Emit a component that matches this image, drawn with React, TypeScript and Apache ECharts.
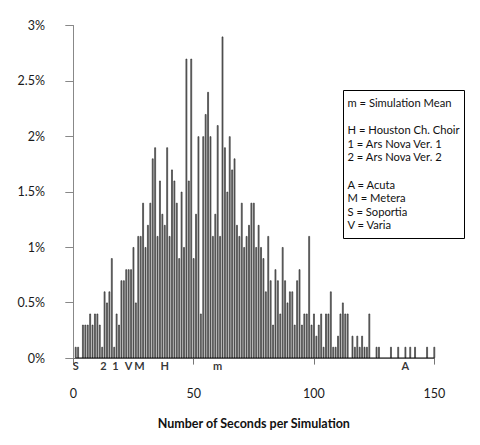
import React, { useEffect, useRef } from "react";
import * as echarts from "echarts";

// percent of simulations for seconds 1..123
const mainPercents = [
  0.1, 0.1, 0, 0.3, 0.3, 0.3, 0.4, 0.3, 0.4, 0.4,
  0.3, 0.1, 0.6, 0.5, 0.6, 0.9, 0.1, 0.4, 0.3, 0.7,
  0.7, 0.8, 0.8, 0.8, 1.0, 0.5, 1.1, 1.1, 1.4, 1.0,
  1.2, 1.4, 1.8, 1.9, 1.1, 1.6, 1.3, 1.2, 1.9, 1.1,
  1.7, 1.6, 1.4, 0.9, 1.5, 1.0, 2.7, 1.6, 2.7, 0.9,
  1.3, 2.0, 0.4, 2.0, 2.2, 2.4, 2.0, 1.1, 1.3, 2.1,
  1.1, 2.9, 1.9, 1.5, 2.0, 1.7, 1.8, 1.2, 1.1, 1.4,
  1.0, 1.1, 1.2, 1.4, 1.4, 1.0, 1.2, 1.0, 0.9, 0.6,
  1.1, 0.7, 0.3, 0.8, 0.7, 0.4, 1.0, 0.7, 0.5, 0.6,
  0.6, 0.3, 0.7, 0.8, 0.3, 0.4, 0.4, 1.1, 0.3, 0.4,
  0.2, 0.3, 0.4, 0.1, 0.4, 0.4, 0.6, 0.1, 0.1, 0.2,
  0.4, 0.5, 0.4, 0.4, 0, 0.2, 0.1, 0.2, 0.1, 0.2,
  0.1, 0.1, 0.4,
];
// sparse tail: seconds with a single simulation
const tailSeconds = [126, 127, 132, 135, 138, 140, 142, 147, 150];
const tailPercent = 0.1;

const markerLetters = ["S", "2", "1", "V", "M", "H", "m", "A"];
const markerSeconds = [1, 12.5, 17.5, 23, 27.5, 38, 60, 138];

const xTicks = { min: 0, max: 150, interval: 50 };
const yTicks = { min: 0, max: 3, interval: 0.5 };

const legendLines = [
  "m = Simulation Mean",
  "",
  "H = Houston Ch. Choir",
  "1 = Ars Nova Ver. 1",
  "2 = Ars Nova Ver. 2",
  "",
  "A = Acuta",
  "M = Metera",
  "S = Soportia",
  "V = Varia",
];

const FONT = "Lato, 'Open Sans', sans-serif";

export default function App() {
  const ref = useRef<HTMLDivElement>(null);
  useEffect(() => {
    if (!ref.current) return;
    const chart = echarts.init(ref.current, null, { renderer: "svg" });
    const barData: number[][] = [];
    mainPercents.forEach((p, i) => {
      if (p > 0) barData.push([i + 1, p]);
    });
    tailSeconds.forEach((s) => barData.push([s, tailPercent]));
    const markerData = markerLetters.map((l, i) => ({
      name: l,
      value: [markerSeconds[i], 0],
    }));
    chart.setOption({
      animation: false,
      backgroundColor: "#ffffff",
      textStyle: { fontFamily: FONT },
      grid: { left: 73.3, right: 45.7, top: 25.5, bottom: 87 },
      xAxis: {
        type: "value",
        min: xTicks.min,
        max: xTicks.max,
        interval: xTicks.interval,
        offset: 13.7,
        name: "Number of Seconds per Simulation",
        nameLocation: "middle",
        nameGap: 45,
        nameTextStyle: {
          fontFamily: FONT,
          fontSize: 12.5,
          fontWeight: "bold",
          color: "#111",
        },
        axisLine: { show: true, lineStyle: { color: "#777", width: 1 } },
        axisTick: { show: true, length: 6.6, lineStyle: { color: "#777" } },
        axisLabel: { margin: 15, fontSize: 12.5, color: "#1a1a1a", fontFamily: FONT },
        splitLine: { show: false },
      },
      yAxis: {
        type: "value",
        min: yTicks.min,
        max: yTicks.max,
        interval: yTicks.interval,
        offset: 14.3,
        axisLine: { show: true, lineStyle: { color: "#888", width: 1 } },
        axisTick: { show: true, length: 8, lineStyle: { color: "#888" } },
        axisLabel: {
          margin: 14,
          fontSize: 12.5,
          color: "#1a1a1a",
          fontFamily: FONT,
          formatter: (v: number) => `${v}%`,
        },
        splitLine: { show: false },
      },
      series: [
        {
          type: "bar",
          data: barData,
          barWidth: 1.6,
          itemStyle: { color: "#7a7a7a", borderColor: "#222", borderWidth: 0.6 },
          silent: true,
        },
        {
          type: "line",
          data: [
            [1, 0],
            [150, 0],
          ],
          symbol: "none",
          lineStyle: { color: "#000", width: 1 },
          silent: true,
        },
        {
          type: "scatter",
          data: markerData,
          symbolSize: 1,
          itemStyle: { color: "transparent" },
          label: {
            show: true,
            position: "bottom",
            distance: 1,
            formatter: (p: any) => p.name,
            fontFamily: FONT,
            fontWeight: "bold",
            fontSize: 11,
            color: "#000",
          },
          silent: true,
        },
      ],
      graphic: [
        {
          type: "group",
          left: 343,
          top: 90,
          children: [
            {
              type: "rect",
              shape: { x: 0, y: 0, width: 121, height: 148 },
              style: { fill: "#fff", stroke: "#000", lineWidth: 1 },
            },
            {
              type: "text",
              x: 4,
              y: 5.2,
              style: {
                text: legendLines.join("\n"),
                fontFamily: FONT,
                fontSize: 11.2,
                lineHeight: 13.6,
                fill: "#111",
              },
            },
          ],
        },
      ],
    });
    return () => chart.dispose();
  }, []);
  return (
    <div
      ref={ref}
      style={{ position: "fixed", left: 0, top: 0, width: 480, height: 445 }}
    />
  );
}
